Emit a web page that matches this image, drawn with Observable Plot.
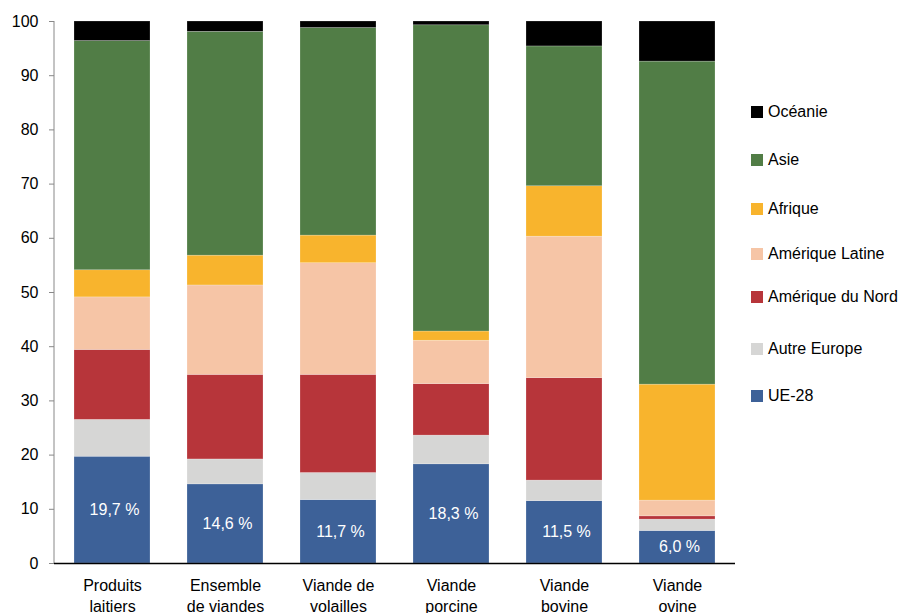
<!DOCTYPE html>
<html>
<head>
<meta charset="utf-8">
<script src="https://cdn.jsdelivr.net/npm/d3@7"></script>
<script src="https://cdn.jsdelivr.net/npm/@observablehq/plot@0.6"></script>
<style>
  html, body { margin: 0; padding: 0; background: #fff; }
  #wrap { position: relative; width: 902px; height: 613px; overflow: hidden; font-family: "Liberation Sans", Arial, sans-serif; }
  .leg { position: absolute; left: 751px; display: flex; align-items: center; font-size: 16px; color: #000; white-space: nowrap; transform: translateY(-50%); }
  .leg span.sw { display: inline-block; width: 12px; height: 12px; margin-right: 5px; }
</style>
</head>
<body>
<div id="wrap"></div>
<script>
// Categories (x axis)
const categories = ["Produits\nlaitiers", "Ensemble\nde viandes", "Viande de\nvolailles", "Viande\nporcine", "Viande\nbovine", "Viande\novine"];
// Series, bottom to top
const series = ["UE-28", "Autre Europe", "Amérique du Nord", "Amérique Latine", "Afrique", "Asie", "Océanie"];
const colors = ["#3d6198", "#d6d6d5", "#b7353a", "#f6c5a6", "#f8b42d", "#517d46", "#000000"];
// Shares (%) per series, one value per category
const ue28        = [19.7, 14.6, 11.7, 18.3, 11.5, 6.0];
const autreEurope = [6.8, 4.6, 5.0, 5.3, 3.8, 2.1];
const ameriqueNord= [12.9, 15.6, 18.1, 9.5, 18.9, 0.6];
const ameriqueLat = [9.7, 16.5, 20.6, 8.0, 26.1, 2.9];
const afrique     = [5.0, 5.5, 5.1, 1.7, 9.3, 21.4];
const asie        = [42.3, 41.3, 38.3, 56.5, 25.8, 59.6];
const oceanie     = [3.6, 1.9, 1.2, 0.7, 4.6, 7.4];
// Legend order (top to bottom)
const legendOrder = ["Océanie", "Asie", "Afrique", "Amérique Latine", "Amérique du Nord", "Autre Europe", "UE-28"];
const yTicks = [0, 10, 20, 30, 40, 50, 60, 70, 80, 90, 100];

const valuesBySeries = [ue28, autreEurope, ameriqueNord, ameriqueLat, afrique, asie, oceanie];
const data = [];
categories.forEach((c, i) => {
  series.forEach((s, j) => data.push({cat: c, serie: s, value: valuesBySeries[j][i]}));
});
const ueData = categories.map((c, i) => ({cat: c, value: ue28[i]}));
const fmt = v => v.toFixed(1).replace(".", ",") + " %";

const chart = Plot.plot({
  width: 902,
  height: 613,
  marginLeft: 54,
  marginRight: 167,
  marginTop: 21,
  marginBottom: 50,
  style: {fontFamily: "'Liberation Sans', Arial, sans-serif", fontSize: "16px", color: "#000", background: "#fff"},
  x: {domain: categories, paddingInner: 0.33, paddingOuter: 0.177, label: null},
  y: {domain: [0, 100], label: null},
  color: {domain: series, range: colors},
  marks: [
    Plot.barY(data, {x: "cat", y: "value", fill: "serie", stroke: "#ffffff", strokeOpacity: 0.35, strokeWidth: 0.6}),
    Plot.text(ueData, {x: "cat", y: d => d.value / 2, text: d => fmt(d.value), fill: "#fff", fontSize: 16, dx: 2}),
    Plot.axisX({tickSize: 0, tickPadding: 13, lineHeight: 1.3, fontSize: 16, fill: "#000"}),
    Plot.axisY({ticks: yTicks, tickSize: 5, tickPadding: 11, stroke: "#888", fill: "#000", fontSize: 16}),
    Plot.ruleX([0], {x: () => categories[0], dx: -58.5, y1: 0, y2: 100, stroke: "#888"}),
    Plot.ruleY([0], {stroke: "#000", strokeWidth: 1.3})
  ]
});

const wrap = document.getElementById("wrap");
wrap.appendChild(chart);

const legendY = [111.5, 159.5, 209, 254, 296.5, 349, 396];
legendOrder.forEach((name, i) => {
  const d = document.createElement("div");
  d.className = "leg";
  d.style.top = legendY[i] + "px";
  const sw = document.createElement("span");
  sw.className = "sw";
  sw.style.background = colors[series.indexOf(name)];
  d.appendChild(sw);
  d.appendChild(document.createTextNode(name));
  wrap.appendChild(d);
});
</script>
</body>
</html>
